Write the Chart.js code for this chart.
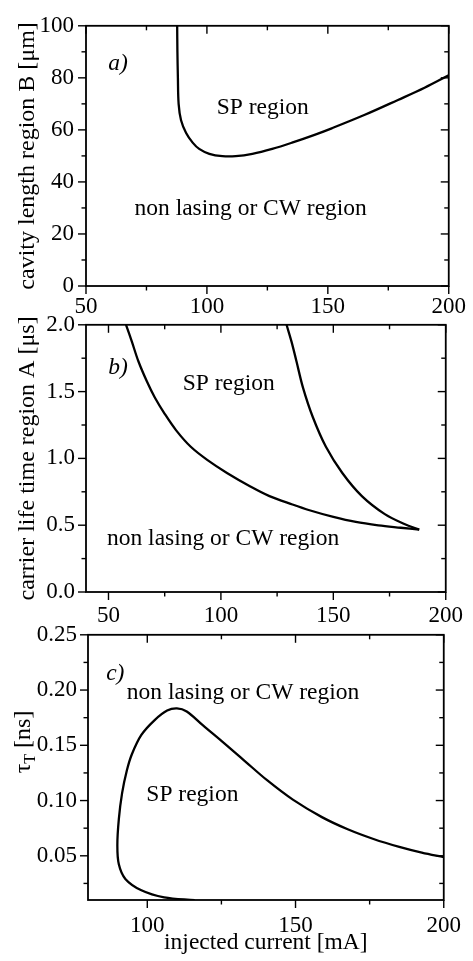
<!DOCTYPE html>
<html>
<head>
<meta charset="utf-8">
<script src="https://cdn.jsdelivr.net/npm/chart.js@4.4.1/dist/chart.umd.min.js"></script>
<style>
  html, body { margin: 0; padding: 0; background: #fff; }
  #wrap { position: relative; width: 473px; height: 961px; overflow: hidden; }
  #wrap canvas { position: absolute; left: 0; }
</style>
</head>
<body>
<div id="wrap">
  <canvas id="chartA" width="473" height="320" style="top:0"></canvas>
  <canvas id="chartB" width="473" height="330" style="top:300px"></canvas>
  <canvas id="chartC" width="473" height="351" style="top:610px"></canvas>
</div>
<script>
// values
// a) boundary of SP region: cavity length of region B [µm] vs injected current [mA]
const currentA = [87.7, 87.8, 88.0, 88.3, 89.3, 91.4, 94.1, 96.8, 101, 106.4, 111.9, 118.8, 127, 135.2, 144.8, 151.6, 165.3, 179, 190, 200];
const lengthB  = [100, 90, 80, 70, 63.7, 58.8, 55.1, 52.7, 50.8, 49.9, 49.9, 50.8, 52.7, 55.1, 58.2, 60.6, 65.8, 71.5, 76.2, 81];

// b) two branches: carrier life time of region A [µs]
const currentB1  = [57.8, 60.4, 63.3, 67.0, 70.6, 75.0, 80.1, 86.6, 93.9, 102.7, 112.9, 121.6, 131.8, 139.4, 150, 160, 170, 180, 188.2];
const lifetimeA1 = [2.0, 1.874, 1.727, 1.579, 1.456, 1.334, 1.210, 1.087, 0.989, 0.891, 0.792, 0.718, 0.655, 0.612, 0.562, 0.524, 0.499, 0.481, 0.467];
const currentB2  = [129.2, 131.4, 133.6, 136.5, 140.9, 146.7, 154, 162.7, 172.9, 181.6, 188.2];
const lifetimeA2 = [2.0, 1.874, 1.727, 1.530, 1.308, 1.087, 0.891, 0.718, 0.583, 0.509, 0.467];

// c) closed SP boundary: tau_T [ns]
const currentC = [116, 105.7, 98.0, 92.6, 90.4, 89.9, 90.4, 91.5, 93.1, 94.8, 98.0, 102.4, 106.7, 110.0, 113.3, 118.7, 125.2, 132.8, 140.4, 149.1, 158.9, 167.6, 176.3, 185.0, 192.6, 200];
const tauT     = [0.0098, 0.0124, 0.0188, 0.0291, 0.0423, 0.0598, 0.0832, 0.1067, 0.1272, 0.1419, 0.1594, 0.1726, 0.1814, 0.1834, 0.1806, 0.1682, 0.1536, 0.1360, 0.1184, 0.1008, 0.0850, 0.0740, 0.0652, 0.0580, 0.0528, 0.0487];

// tick values (major = labelled, minor = marks only)
const xTicksA = [50, 100, 150, 200];
const xMinorA = [75, 125, 175];
const yTicksA = [0, 20, 40, 60, 80, 100];
const yMinorA = [10, 30, 50, 70, 90];
const xTicksB = [50, 100, 150, 200];
const xMinorB = [75, 125, 175];
const yTicksB = [0, 0.5, 1.0, 1.5, 2.0];
const yMinorB = [0.25, 0.75, 1.25, 1.75];
const xTicksC = [100, 150, 200];
const xMinorC = [125, 175];
const yTicksC = [0.05, 0.10, 0.15, 0.20, 0.25];
const yMinorC = [0.025, 0.075, 0.125, 0.175, 0.225];

const FONT = "'Liberation Serif', 'Times New Roman', serif";

const toPoints = (xs, ys) => xs.map((x, i) => ({ x: x, y: ys[i] }));

// box around the plot plus tick marks: out on left/bottom, in on top/right
const frameTicks = {
    id: 'frameTicks',
    afterDraw(chart, args, opts) {
        const { ctx, chartArea: a, scales: { x, y } } = chart;
        const mark = (x1, y1, x2, y2) => {
            ctx.beginPath(); ctx.moveTo(x1, y1); ctx.lineTo(x2, y2); ctx.stroke();
        };
        ctx.save();
        ctx.strokeStyle = '#000';
        ctx.lineWidth = 1.8;
        ctx.strokeRect(a.left, a.top, a.right - a.left, a.bottom - a.top);
        ctx.lineWidth = 1.4;
        [[opts.xMajor, 8], [opts.xMinor, 4.5]].forEach(([vals, len]) => {
            vals.filter(v => v >= x.min && v <= x.max).forEach(v => {
                const px = x.getPixelForValue(v);
                mark(px, a.bottom, px, a.bottom + len);
                mark(px, a.top, px, a.top + len);
            });
        });
        [[opts.yMajor, 8], [opts.yMinor, 4.5]].forEach(([vals, len]) => {
            vals.filter(v => v >= y.min && v <= y.max).forEach(v => {
                const py = y.getPixelForValue(v);
                mark(a.left, py, a.left - len, py);
                mark(a.right, py, a.right - len, py);
            });
        });
        ctx.restore();
    }
};

// region labels, placed in data coordinates
const notes = {
    id: 'notes',
    afterDraw(chart, args, opts) {
        const { ctx, scales: { x, y } } = chart;
        ctx.save();
        ctx.fillStyle = '#000';
        ctx.textAlign = 'center';
        ctx.textBaseline = 'middle';
        opts.items.forEach(n => {
            ctx.font = (n.italic ? 'italic ' : '') + '23.5px ' + FONT;
            ctx.fillText(n.text, x.getPixelForValue(n.x), y.getPixelForValue(n.y));
        });
        // tau_T title needs a subscript, so it is drawn by hand (canvas coords)
        if (opts.tauTitle) {
            ctx.translate(30, 132);
            ctx.rotate(-Math.PI / 2);
            ctx.textAlign = 'left';
            ctx.textBaseline = 'alphabetic';
            ctx.font = '24px ' + FONT;
            const w1 = ctx.measureText('τ').width;
            ctx.font = '16px ' + FONT;
            const w2 = ctx.measureText('T').width;
            ctx.font = '24px ' + FONT;
            const w3 = ctx.measureText(' [ns]').width;
            let cx = -(w1 + w2 + w3) / 2;
            ctx.fillText('τ', cx, 0);
            cx += w1;
            ctx.font = '16px ' + FONT;
            ctx.fillText('T', cx, 5);
            cx += w2;
            ctx.font = '24px ' + FONT;
            ctx.fillText(' [ns]', cx, 0);
        }
        ctx.restore();
    }
};

function axis(min, max, ticks, digits, pad, size, extra) {
    return Object.assign({
        type: 'linear',
        min: min,
        max: max,
        grid: { display: false, drawTicks: false },
        border: { display: false },
        afterBuildTicks: s => { s.ticks = ticks.map(v => ({ value: v })); },
        ticks: {
            color: '#000',
            padding: pad,
            autoSkip: false,
            maxRotation: 0,
            font: { family: FONT, size: 23 },
            callback: v => Number(v).toFixed(digits)
        }
    }, size, extra);
}

function line(points) {
    return {
        data: points,
        showLine: true,
        borderColor: '#000',
        borderWidth: 2.3,
        pointRadius: 0,
        tension: 0.35,
        fill: false
    };
}

function panel(id, datasets, scales, padding, frame, noteOpts) {
    return new Chart(document.getElementById(id), {
        type: 'scatter',
        data: { datasets: datasets },
        options: {
            responsive: false,
            animation: false,
            events: [],
            layout: { padding: padding },
            scales: scales,
            plugins: {
                legend: { display: false },
                tooltip: { enabled: false },
                frameTicks: frame,
                notes: noteOpts
            }
        },
        plugins: [frameTicks, notes]
    });
}

const yTitle = text => ({
    title: { display: true, text: text, color: '#000', font: { family: FONT, size: 24 }, padding: { top: 13, bottom: 0 } }
});

// a)
panel('chartA',
    [line(toPoints(currentA, lengthB))],
    {
        x: axis(50, 200, xTicksA, 0, 7, { afterFit: s => { s.height = 34; } }),
        y: axis(0, 100, yTicksA, 0, 12, { afterFit: s => { s.width = 86; } }, yTitle('cavity length region B [μm]'))
    },
    { top: 15, right: 22, bottom: 0, left: 0 },
    { xMajor: xTicksA, xMinor: xMinorA, yMajor: yTicksA, yMinor: yMinorA },
    { items: [
        { text: 'a)', x: 63.2, y: 85.2, italic: true },
        { text: 'SP region', x: 123.1, y: 68.3 },
        { text: 'non lasing or CW region', x: 118.1, y: 29.5 }
    ] }
);

// b)
panel('chartB',
    [line(toPoints(currentB1, lifetimeA1)), line(toPoints(currentB2, lifetimeA2))],
    {
        x: axis(40, 200, xTicksB, 0, 10, { afterFit: s => { s.height = 38; } }),
        y: axis(0, 2, yTicksB, 1, 11, { afterFit: s => { s.width = 86; } }, yTitle('carrier life time region A [μs]'))
    },
    { top: 21, right: 21, bottom: 0, left: 0 },
    { xMajor: xTicksB, xMinor: xMinorB, yMajor: yTicksB, yMinor: yMinorB },
    { items: [
        { text: 'b)', x: 54.2, y: 1.68, italic: true },
        { text: 'SP region', x: 103.5, y: 1.555 },
        { text: 'non lasing or CW region', x: 101, y: 0.40 }
    ] }
);

// c)
panel('chartC',
    [line(toPoints(currentC, tauT))],
    {
        x: axis(80, 200, xTicksC, 0, 12, { afterFit: s => { s.height = 61; } }, {
            title: { display: true, text: 'injected current [mA]', color: '#000', font: { family: FONT, size: 23.5 }, padding: { top: 0, bottom: 4 } }
        }),
        y: axis(0.01, 0.25, yTicksC, 2, 11, { afterFit: s => { s.width = 88; } })
    },
    { top: 17, right: 17, bottom: 0, left: 0 },
    { xMajor: xTicksC, xMinor: xMinorC, yMajor: yTicksC, yMinor: yMinorC },
    { tauTitle: true, items: [
        { text: 'c)', x: 89.2, y: 0.215, italic: true },
        { text: 'non lasing or CW region', x: 132.3, y: 0.1974 },
        { text: 'SP region', x: 115.2, y: 0.1049 }
    ] }
);
</script>
</body>
</html>
